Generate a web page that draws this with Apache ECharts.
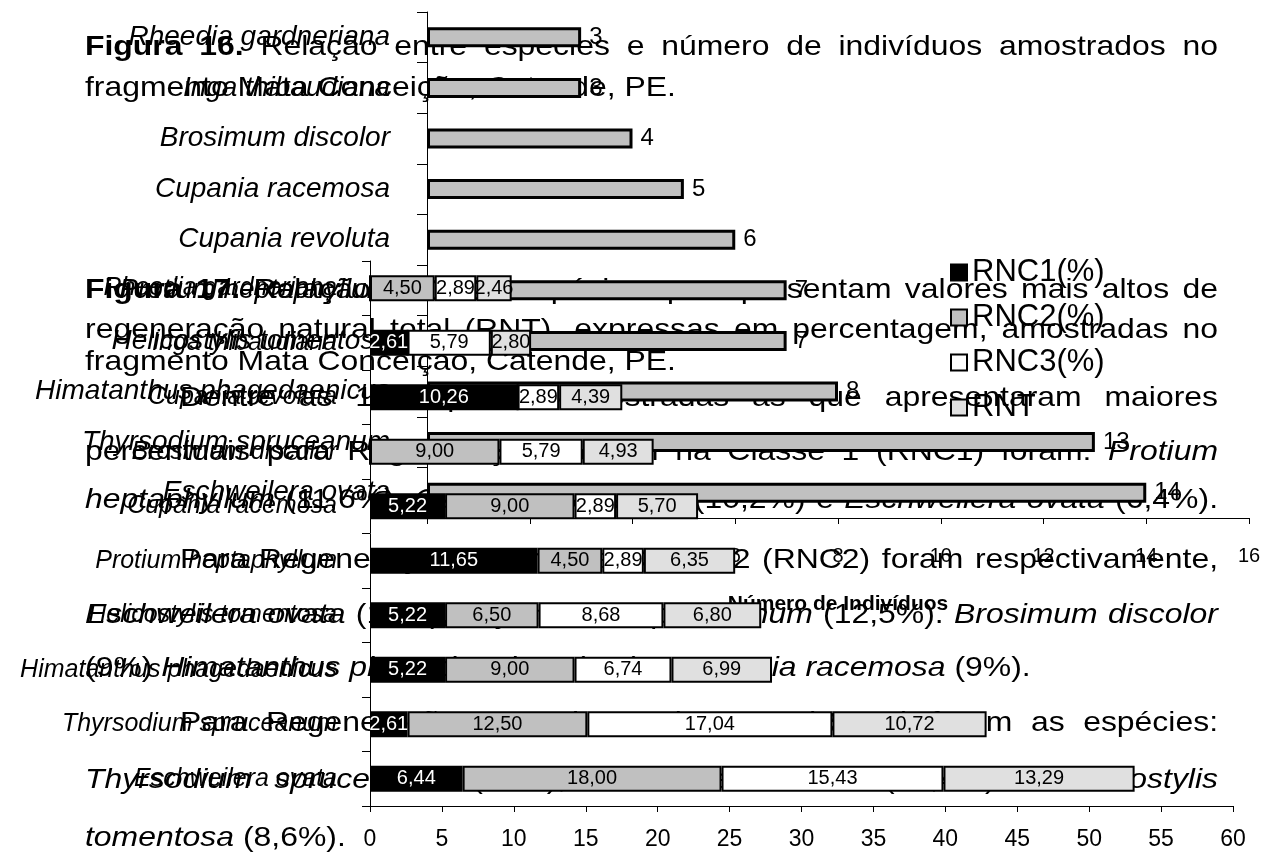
<!DOCTYPE html>
<html><head><meta charset="utf-8">
<script src="https://cdn.jsdelivr.net/npm/echarts@6/dist/echarts.min.js"></script>
<style>html,body{margin:0;padding:0;background:#fff}#c{width:1279px;height:856px}</style>
</head><body><div id="c"></div><script>
const FONT = '"Liberation Sans", Arial, Helvetica, sans-serif';

// Figure 16 chart: number of individuals per species
const countSpecies = ['Rheedia gardneriana','Inga thibaudiana','Brosimum discolor','Cupania racemosa','Cupania revoluta','Protium heptaphyllum','Helicostylis tomentosa','Himatanthus phagedaenicus','Thyrsodium spruceanum','Eschweilera ovata'];
const countValues = [3, 3, 4, 5, 6, 7, 7, 8, 13, 14];

// Figure 17 chart: natural regeneration (%)
const regenSpecies = ['Rheedia gardneriana','Inga thibaudiana','Cupania revoluta','Brosimum discolor','Cupania racemosa','Protium heptaphyllum','Helicostylis tomentosa','Himatanthus phagedaenicus','Thyrsodium spruceanum','Eschweilera ovata'];
const rnc1 = [0, 2.61, 10.26, 0, 5.22, 11.65, 5.22, 5.22, 2.61, 6.44];
const rnc2 = [4.50, 0, 0, 9.00, 9.00, 4.50, 6.50, 9.00, 12.50, 18.00];
const rnc3 = [2.89, 5.79, 2.89, 5.79, 2.89, 2.89, 8.68, 6.74, 17.04, 15.43];
const rnt  = [2.46, 2.80, 4.39, 4.93, 5.70, 6.35, 6.80, 6.99, 10.72, 13.29];
const legendNames = ['RNC1(%)','RNC2(%)','RNC3(%)','RNT'];

// Body text of the page (* = bold word, _ = italic word)
const bodyLines = [
  {y:47,  x0:85,  x1:1218, t:'*Figura *16. Relação entre espécies e número de indivíduos amostrados no'},
  {y:88,  x0:85,  x1:null, t:'fragmento Mata Conceição, Catende, PE.'},
  {y:290, x0:85,  x1:1218, t:'*Figura *17. Relação entre as espécies que apresentam valores mais altos de'},
  {y:330, x0:85,  x1:1218, t:'regeneração natural total (RNT), expressas em percentagem, amostradas no'},
  {y:362, x0:85,  x1:null, t:'fragmento Mata Conceição, Catende, PE.'},
  {y:398, x0:180, x1:1218, t:'Dentre as 10 espécies amostradas as que apresentaram maiores'},
  {y:452, x0:85,  x1:1218, t:'percentuais para Regeneração Natural na Classe 1 (RNC1) foram: _Protium'},
  {y:500, x0:85,  x1:1218, t:'_heptaphyllum (11,6%), _Cupania _racemosa (10,2%) e _Eschweilera _ovata (6,4%).'},
  {y:560, x0:180, x1:1218, t:'Para Regeneração Natural na Classe 2 (RNC2) foram respectivamente,'},
  {y:615, x0:85,  x1:1218, t:'_Eschweilera _ovata (18%), _Thyrsodium _spruceanum (12,5%). _Brosimum _discolor'},
  {y:668, x0:85,  x1:null, t:'(9%) _Himatanthus _phagedaenicus (9%) e _Cupania _racemosa (9%).'},
  {y:723, x0:180, x1:1218, t:'Para Regeneração Natural na Classe 3 (RNC3) foram as espécies:'},
  {y:780, x0:85,  x1:1218, t:'_Thyrsodium _spruceanum (17%), _Eschweilera _ovata (15,4%) e _Helicostylis'},
  {y:838, x0:85,  x1:null, t:'_tomentosa (8,6%).'}
];

const BODY_SIZE = 28.5, SX = 1.12;
const ctx = document.createElement('canvas').getContext('2d');
function buildLine(line){
  const items = line.t.split(' ').map(w => {
    let style = 'normal', weight = 'normal';
    if (w[0] === '*') { weight = 'bold'; w = w.slice(1); }
    else if (w[0] === '_') { style = 'italic'; w = w.slice(1); }
    ctx.font = style + ' ' + weight + ' ' + BODY_SIZE + 'px ' + FONT;
    return {w, style, weight, width: ctx.measureText(w).width * SX};
  });
  ctx.font = 'normal normal ' + BODY_SIZE + 'px ' + FONT;
  const space = ctx.measureText(' ').width * SX;
  const total = items.reduce((s, i) => s + i.width, 0);
  let gap = space;
  if (line.x1 && items.length > 1) gap = Math.max(space * 0.4, (line.x1 - line.x0 - total) / (items.length - 1));
  let x = line.x0;
  return items.map(it => {
    const el = {type:'text', x: x, y: line.y, scaleX: SX, scaleY: 1, z: 0, silent: true,
      style:{text: it.w, x: 0, y: 0, fill:'#000', fontSize: BODY_SIZE, fontFamily: FONT,
        fontStyle: it.style, fontWeight: it.weight, textAlign:'left', textVerticalAlign:'middle', verticalAlign:'middle'}};
    x += it.width + gap;
    return el;
  });
}
const graphicEls = [];
bodyLines.forEach(l => buildLine(l).forEach(e => graphicEls.push(e)));

const fmt2 = p => (p.value ? p.value.toFixed(2).replace('.', ',') : '');
function regenSeries(name, data, fill, labelColor){
  return {name, type:'bar', stack:'regen', xAxisIndex:1, yAxisIndex:1, data, barWidth:26, z:3,
    itemStyle:{color:fill, borderColor:'#000', borderWidth:2},
    label:{show:true, position:'inside', formatter:fmt2, color:labelColor, fontSize:20, fontFamily:FONT}};
}

const chart = echarts.init(document.getElementById('c'), null, {renderer:'canvas'});
chart.setOption({
  animation:false,
  backgroundColor:'#fff',
  textStyle:{fontFamily:FONT, color:'#000'},
  graphic:{elements: graphicEls},
  legend:{data: legendNames, orient:'vertical', left:945, top:252, icon:'rect', itemWidth:16, itemHeight:16, itemGap:14,
    textStyle:{fontSize:31, color:'#000', fontFamily:FONT}},
  grid:[
    {left:427, top:12, width:822, height:506},
    {left:370, top:261, width:863, height:545}
  ],
  xAxis:[
    {type:'value', gridIndex:0, min:0, max:16, interval:2,
      axisLine:{show:true, lineStyle:{color:'#000', width:1}},
      axisTick:{show:true, length:6, lineStyle:{color:'#000'}},
      splitLine:{show:false},
      axisLabel:{fontSize:20, margin:28, color:'#000', fontFamily:FONT},
      name:'Número de Indivíduos', nameLocation:'middle', nameGap:76,
      nameTextStyle:{fontSize:21, fontWeight:'bold', color:'#000', fontFamily:FONT}},
    {type:'value', gridIndex:1, min:0, max:60, interval:5,
      axisLine:{show:true, lineStyle:{color:'#000', width:1}},
      axisTick:{show:true, length:6, lineStyle:{color:'#000'}},
      splitLine:{show:false},
      axisLabel:{fontSize:23, margin:22, color:'#000', fontFamily:FONT}}
  ],
  yAxis:[
    {type:'category', gridIndex:0, data:countSpecies, inverse:true,
      axisLine:{show:true, lineStyle:{color:'#000', width:1}},
      axisTick:{show:true, length:10, lineStyle:{color:'#000'}},
      axisLabel:{fontSize:28, fontStyle:'italic', margin:37, color:'#000', fontFamily:FONT}},
    {type:'category', gridIndex:1, data:regenSpecies, inverse:true,
      axisLine:{show:true, lineStyle:{color:'#000', width:1}},
      axisTick:{show:true, length:8, lineStyle:{color:'#000'}},
      axisLabel:{fontSize:25, fontStyle:'italic', margin:33, color:'#000', fontFamily:FONT}}
  ],
  series:[
    {name:'Indivíduos', type:'bar', xAxisIndex:0, yAxisIndex:0, data:countValues, barWidth:20, z:2,
      itemStyle:{color:'#c0c0c0', borderColor:'#000', borderWidth:3},
      label:{show:true, position:'right', distance:8, fontSize:24, color:'#000', fontFamily:FONT}},
    regenSeries('RNC1(%)', rnc1, '#000000', '#fff'),
    regenSeries('RNC2(%)', rnc2, '#c0c0c0', '#000'),
    regenSeries('RNC3(%)', rnc3, '#ffffff', '#000'),
    regenSeries('RNT', rnt, '#e0e0e0', '#000')
  ]
});
</script></body></html>
